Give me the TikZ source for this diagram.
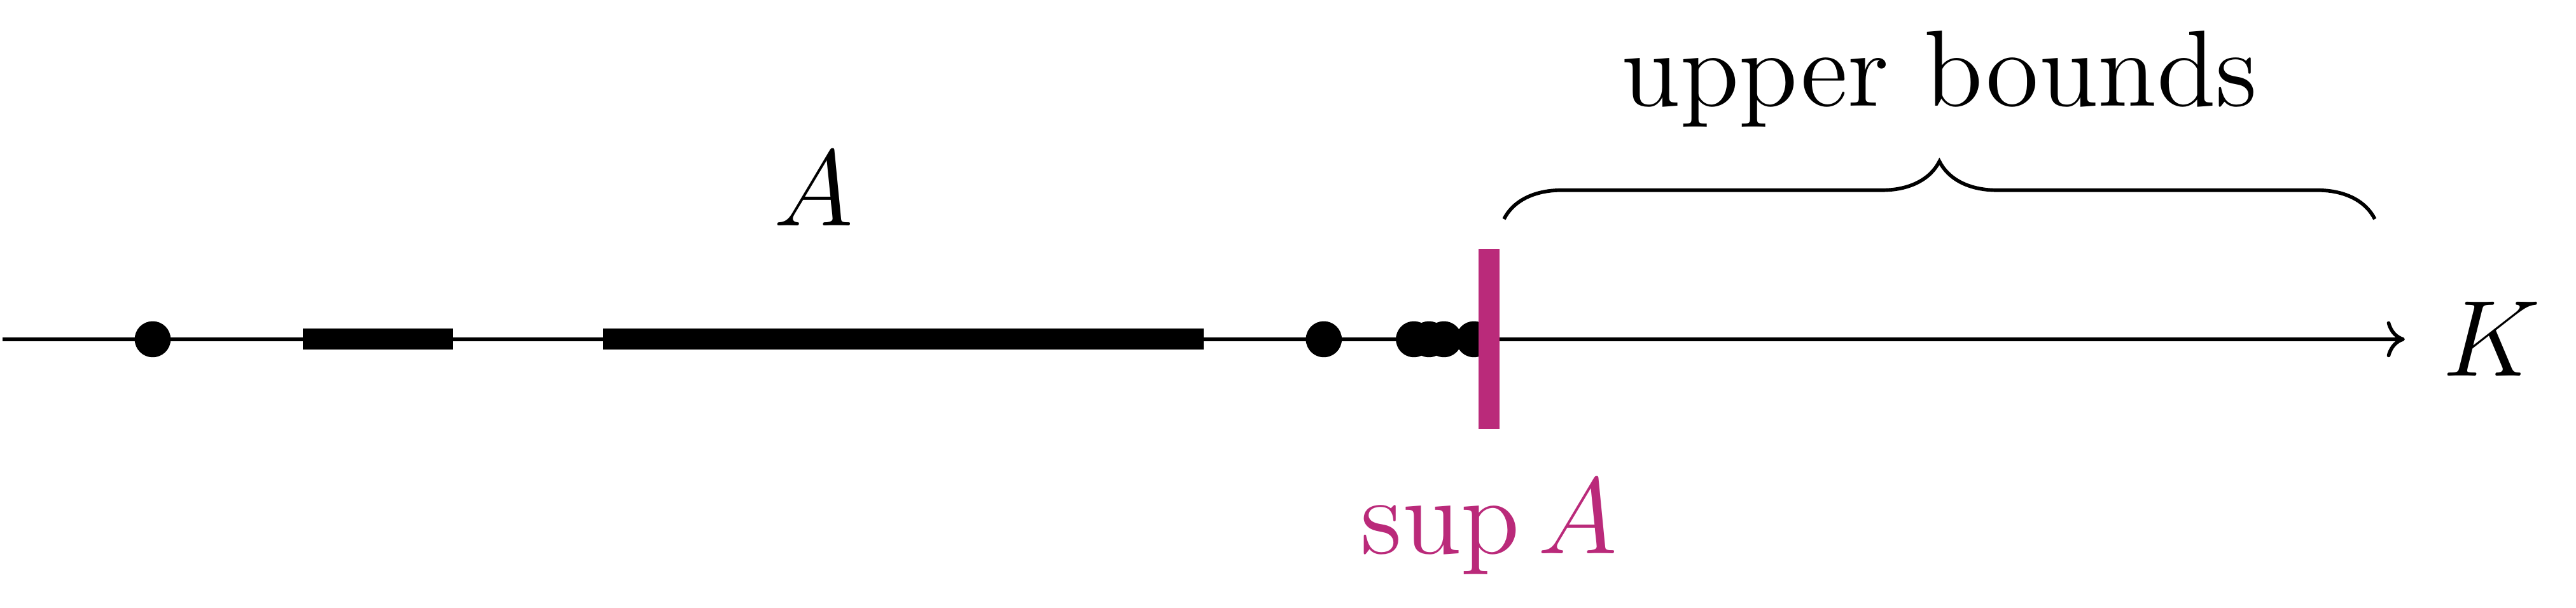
\documentclass[tikz,border=0pt,12pt]{standalone}
\usepackage{xcolor}
\usepackage{amsmath}
\usepackage{tikz}
\usetikzlibrary{arrows.meta, positioning, calc, decorations.pathreplacing}
\definecolor{mymagenta}{RGB}{186,42,122}
\definecolor{mydark}{RGB}{0,0,0}
\tikzset{
  axisline/.style={-{To[length=2pt, width=4pt]}, color=mydark},
  ptdot/.style={fill=mydark},
  segline/.style={line width=2.33pt, color=mydark},
  supline/.style={line width=2.33pt, color=mymagenta},
  bracestyle/.style={decorate, decoration={brace, amplitude=6.4pt}, color=mydark}
}

\begin{document}
\begin{tikzpicture}[x=0.5855cm, y=0.5855cm]
  \useasboundingbox (-0.017,-1.788) rectangle (17.14,2.258);
  % axis
  \coordinate (start) at (0,0);
  \coordinate (end) at (16,0);
  \draw[axisline] (start) -- (end) node[right] (K) {$K$};

  % the set A
  \fill[ptdot] (1,0) circle (0.12);
  \draw[segline] (2,0) -- (3,0);
  \draw[segline] (4,0) -- (8,0);
  \fill[ptdot] (8.8,0) circle (0.12);
  \foreach \x in {9.4, 9.5, 9.6, 9.8}
    \fill[ptdot] (\x,0) circle (0.12);
  \node (A) at (5.4,1) {$A$};

  % supremum
  \coordinate (suptop) at (9.9,0.6);
  \coordinate (supbot) at (9.9,-0.6);
  \draw[supline] (suptop) -- (supbot);
  \node[below=1.4pt, text=mymagenta] (sup) at (supbot) {$\sup A$};

  % upper bounds
  \coordinate (ubleft) at (10,0.8);
  \coordinate (ubright) at (15.8,0.8);
  \draw[bracestyle] (ubleft) -- (ubright) node[midway, above=6pt] (ub) {upper bounds};
\end{tikzpicture}
\end{document}
